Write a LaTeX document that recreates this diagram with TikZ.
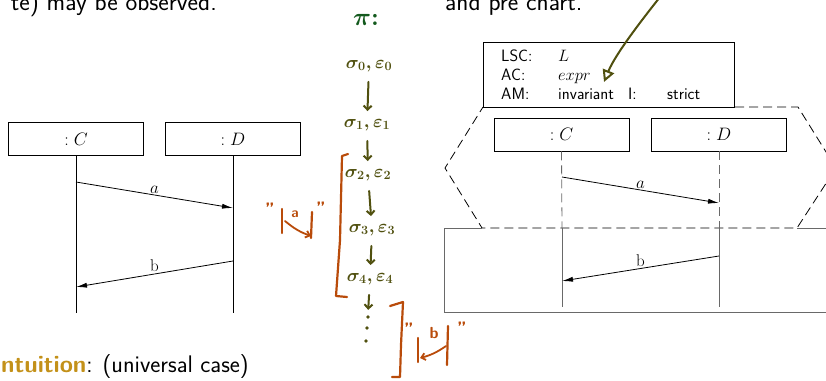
\RequirePackage{fix-cm}
\documentclass[tikz,border=0pt]{standalone}
\usepackage{amsmath, amssymb}
\usepackage{xcolor}
\usepackage{tikz}
\usetikzlibrary{arrows.meta, positioning}
\definecolor{inkGreen}{RGB}{20,90,30}
\definecolor{inkOlive}{RGB}{80,80,15}
\definecolor{inkRust}{RGB}{185,75,10}
\definecolor{slideGold}{RGB}{195,145,25}
\definecolor{lscGray}{RGB}{105,105,105}

\begin{document}
\begin{tikzpicture}[x=1pt, y=-1pt,
  inst/.style={draw, fill=white, line width=0.8pt, minimum width=135pt,
    minimum height=33pt, inner sep=0pt, font=\fontsize{18}{20}\selectfont},
  msg/.style={line width=0.8pt, -{Latex[length=11pt,width=5pt]}},
  lbl/.style={font=\fontsize{17}{19}\selectfont, inner sep=1.5pt},
  hdr/.style={anchor=base west, inner sep=0pt, font=\sffamily\fontsize{16.5}{18}\selectfont},
  ink/.style={line width=2.2pt, line cap=round, line join=round},
  hand/.style={text=inkOlive, font=\fontsize{18}{20}\selectfont, inner sep=1pt},
  handarrow/.style={ink, inkOlive, line width=2pt, shorten <=9pt, shorten >=7pt,
    -{Straight Barb[length=4pt,width=8pt]}},
  quote/.style={text=inkRust, anchor=north, inner sep=0pt,
    font=\sffamily\bfseries\fontsize{18}{20}\selectfont},
  slide/.style={inner sep=0pt, font=\sffamily\fontsize{25}{29}\selectfont}]
\useasboundingbox (0,0) rectangle (826,380);

% slide text around the sketch
\node[slide, anchor=base east] (obs) at (217,10) {te) may be observed.};
\node[slide, anchor=base west] (pre) at (445,10) {and pre chart.};
\node[slide, anchor=base west, font=\sffamily\fontsize{24}{28}\selectfont] (intu) at (-7,372)
  {\textcolor{slideGold}{\bfseries Intuition}: (universal case)};

% left: plain sequence diagram
\node[inst] (lC) at (76,139) {$:C$};
\node[inst] (lD) at (233,139) {$:D$};
\coordinate (lCend) at (76,313);
\coordinate (lDend) at (233,313);
\draw[line width=0.8pt] (lC.south) -- (lCend);
\draw[line width=0.8pt] (lD.south) -- (lDend);
\coordinate (la1) at (76,182);
\coordinate (la2) at (233,208);
\draw[msg] (la1) -- node[lbl, above] {$a$} (la2);
\coordinate (lb1) at (233,261);
\coordinate (lb2) at (76,287);
\draw[msg] (lb1) -- node[lbl, above] {b} (lb2);

% right: LSC with pre chart
\draw[line width=0.8pt, dash pattern=on 9pt off 5pt]
  (483,107) -- (798,107) -- (836,168) -- (797,228) -- (482,228) -- (445,168) -- cycle;
\draw[lscGray, line width=0.9pt]
  (482,228) -- (444,228) -- (444,312) -- (845,312) -- (845,228) -- (797,228);
\node[draw, fill=white, line width=0.8pt, minimum width=251pt, minimum height=65pt,
  inner sep=0pt] (lsc) at (608.5,74.5) {};
\node[hdr] at (501,61) {LSC:};
\node[hdr] at (558,61) {$L$};
\node[hdr] at (501,80) {AC:};
\node[hdr] at (558,80) {$expr$};
\node[hdr] at (501,99) {AM:};
\node[hdr] at (558,99) {invariant};
\node[hdr] at (628,99) {I:};
\node[hdr] at (667,99) {strict};

\node[inst] (rC) at (561.5,134.5) {$:C$};
\node[inst] (rD) at (719,134.5) {$:D$};
\coordinate (rCmid) at (562,228);
\coordinate (rDmid) at (719,228);
\coordinate (rCend) at (562,307);
\coordinate (rDend) at (719,307);
\draw[lscGray, line width=0.8pt, dash pattern=on 9pt off 5pt] (rC.south) -- (rCmid);
\draw[lscGray, line width=0.8pt, dash pattern=on 9pt off 5pt] (rD.south) -- (rDmid);
\draw[lscGray, line width=0.8pt] (rCmid) -- (rCend);
\draw[lscGray, line width=0.8pt] (rDmid) -- (rDend);
\coordinate (ra1) at (562,177);
\coordinate (ra2) at (719,203);
\draw[msg] (ra1) -- node[lbl, above] {$a$} (ra2);
\coordinate (rb1) at (719,256);
\coordinate (rb2) at (562,281);
\draw[msg] (rb1) -- node[lbl, above] {b} (rb2);

% handwritten run
\node[text=inkGreen, font=\fontsize{25}{27}\selectfont] (pi) at (366,20)
  {$\boldsymbol{\pi}$\textbf{:}};
\node[hand] (s0) at (369,66) {$\boldsymbol{\sigma_0,\varepsilon_0}$};
\node[hand] (s1) at (367,125) {$\boldsymbol{\sigma_1,\varepsilon_1}$};
\node[hand] (s2) at (368,175) {$\boldsymbol{\sigma_2,\varepsilon_2}$};
\node[hand] (s3) at (372,230) {$\boldsymbol{\sigma_3,\varepsilon_3}$};
\node[hand] (s4) at (370,279) {$\boldsymbol{\sigma_4,\varepsilon_4}$};
\node[minimum width=10pt, minimum height=32pt, inner sep=0pt] (dots) at (367,330) {};
\fill[inkOlive] (368,317) circle (1.8pt) (367,328) circle (1.8pt) (366,341) circle (1.8pt);
\draw[handarrow] (s0) -- (s1);
\draw[handarrow] (s1) -- (s2);
\draw[handarrow] (s2) -- (s3);
\draw[handarrow] (s3) -- (s4);
\draw[handarrow, shorten >=4pt] (s4) -- (dots);

% brackets
\draw[ink, inkRust] (348,154) -- (342,156) -- (340,240) -- (336,296) -- (347,297);
\draw[ink, inkRust] (390,306) -- (403,302) -- (401,345) -- (400,377) -- (392,377);

% "a" step
\node[quote] (qa1) at (270,203) {''};
\node[quote] (qa2) at (321,202) {''};
\draw[ink, inkRust] (282,209) -- (282,233);
\draw[ink, inkRust] (312,212) -- (311,238);
\node[text=inkRust, font=\sffamily\bfseries\fontsize{14}{16}\selectfont] (qa) at (295,214) {a};
\coordinate (qaFrom) at (285,221);
\coordinate (qaTo) at (311,236);
\draw[ink, inkRust, line width=1.8pt, -{Straight Barb[length=4pt,width=7pt]}]
  (qaFrom) to[bend right=10] (qaTo);

% "b" step
\node[quote] (qb1) at (409,323) {''};
\node[quote] (qb2) at (462,322) {''};
\draw[ink, inkRust] (418,338) -- (418,362);
\draw[ink, inkRust] (448,326) -- (447,365);
\node[text=inkRust, font=\sffamily\bfseries\fontsize{16}{18}\selectfont] (qb) at (434,333) {b};
\coordinate (qbFrom) at (446,346);
\coordinate (qbTo) at (420,358);
\draw[ink, inkRust, line width=1.8pt, -{Straight Barb[length=4pt,width=7pt]}]
  (qbFrom) to[bend left=10] (qbTo);

% hint arrow into the chart header
\coordinate (hintTop) at (664,-8);
\coordinate (hintTip) at (604,82);
\draw[ink, inkOlive, line width=2pt, -{Triangle[open,length=12pt,width=12pt]}]
  (hintTop) .. controls (640,22) and (615,55) .. (hintTip);
\end{tikzpicture}
\end{document}
